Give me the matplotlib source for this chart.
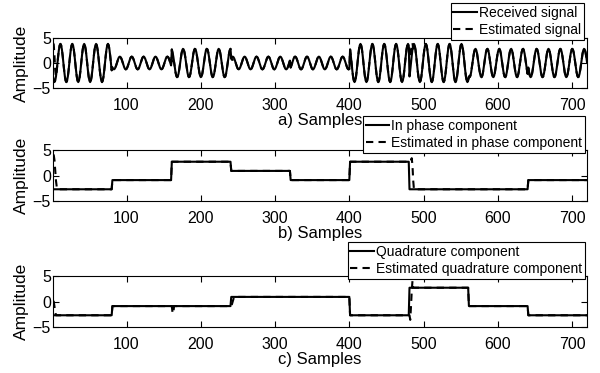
"""Received vs estimated QAM signal, with in-phase and quadrature components."""

import numpy as np
import matplotlib
matplotlib.use("Agg")
import matplotlib.pyplot as plt

plt.rcParams["font.family"] = ["Liberation Sans", "DejaVu Sans"]

SYMBOL_LEN = 80
N_SAMPLES = 720
CARRIER_PERIOD = 16  # samples per carrier cycle
i_levels = [-2.7, -0.9, 2.7, 0.9, -0.9, 2.7, -2.7, -2.7, -0.9]
q_levels = [-2.7, -0.9, -0.9, 0.9, 0.9, -2.7, 2.7, -0.9, -2.7]

# estimator transients: sample -> value (everything else follows the true level)
est_i_fix = {1: 4.0, 2: 4.0, 3: 3.0, 4: 1.0, 5: -1.0, 6: -2.2,
             481: 2.7, 482: 2.7, 483: 3.0, 484: 3.4, 485: 2.0, 486: -1.0}
est_q_fix = {1: 0.0, 2: 0.0, 3: -1.0, 4: -2.0,
             162: -2.3, 163: -2.3,
             241: -0.9, 242: -0.5, 243: 0.0, 244: 0.5,
             481: -2.7, 482: -3.6, 483: -1.0, 484: 2.0, 485: 4.0}

legend_a = ["Received signal", "Estimated signal"]
legend_b = ["In phase component", "Estimated in phase component"]
legend_c = ["Quadrature component", "Estimated quadrature component"]
xlabels = ["a) Samples", "b) Samples", "c) Samples"]


def build():
    n = np.arange(1, N_SAMPLES + 1)
    idx = (n - 1) // SYMBOL_LEN
    i_true = np.array(i_levels)[idx]
    q_true = np.array(q_levels)[idx]
    i_est = i_true.copy()
    q_est = q_true.copy()
    for k, v in est_i_fix.items():
        i_est[k - 1] = v
    for k, v in est_q_fix.items():
        q_est[k - 1] = v
    w = 2 * np.pi / CARRIER_PERIOD
    rx = i_true * np.cos(w * (n - 1)) + q_true * np.sin(w * (n - 1))
    rx_est = i_est * np.cos(w * (n - 1)) + q_est * np.sin(w * (n - 1))
    return n, (rx, rx_est), (i_true, i_est), (q_true, q_est)


def style(ax, xlabel):
    ax.set_xlim(1, N_SAMPLES)
    ax.set_ylim(-5, 5)
    ax.set_xticks([100, 200, 300, 400, 500, 600, 700])
    ax.set_yticks([-5, 0, 5])
    ax.tick_params(direction="in", top=True, right=True, length=4, width=0.8,
                   labelsize=11.5)
    ax.tick_params(axis="x", pad=7)
    ax.tick_params(axis="y", pad=1.5)
    ax.set_xlabel(xlabel, fontsize=12, labelpad=0)
    ax.set_ylabel("Amplitude", fontsize=12.5, labelpad=3)
    for s in ax.spines.values():
        s.set_linewidth(0.8)


n, sig, comp_i, comp_q = build()

fig = plt.figure(figsize=(6.0, 3.73), dpi=100)
W, H = 600, 373
boxes = [(38, 88), (150, 201), (276, 327)]
legend_anchor = [(584, 3), (585, 116), (585, 242)]
dash = (0, (3.5, 2.5))

for k, ((top, bot), (pair, labels), xl, anc) in enumerate(zip(
        boxes, [(sig, legend_a), (comp_i, legend_b), (comp_q, legend_c)],
        xlabels, legend_anchor)):
    ax = fig.add_axes([53 / W, 1 - bot / H, 534 / W, (bot - top) / H])
    ax.plot(n, pair[0], color="black", lw=1.5, label=labels[0])
    ax.plot(n, pair[1], color="black", lw=1.5, linestyle=dash, label=labels[1])
    style(ax, xl)
    leg = ax.legend(loc="upper right", bbox_to_anchor=(anc[0] / W, 1 - anc[1] / H),
                    bbox_transform=fig.transFigure, fontsize=10, frameon=True,
                    fancybox=False, borderaxespad=0, borderpad=0.2,
                    labelspacing=0.25, handlelength=1.7, handletextpad=0.15,
                    framealpha=1)
    leg.get_frame().set_edgecolor("black")
    leg.get_frame().set_linewidth(0.8)

fig.savefig("out.png", dpi=100)
